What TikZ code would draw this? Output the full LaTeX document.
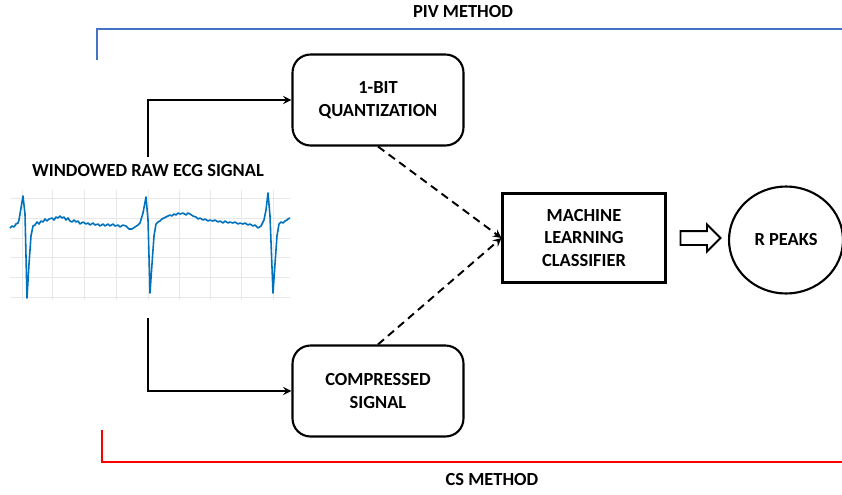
\documentclass[tikz,border=0pt]{standalone}
\usepackage{fontspec}
\setmainfont{Carlito}
\usetikzlibrary{shapes.geometric,shapes.arrows}

\definecolor{pivblue}{RGB}{68,114,196}
\definecolor{csred}{RGB}{255,0,0}
\definecolor{ecgblue}{RGB}{0,114,189}
\definecolor{gridgray}{RGB}{232,232,232}

\begin{document}
\begin{tikzpicture}[
  x=0.02cm, y=-0.02cm,
  every node/.style={font=\fontsize{10.5}{13}\selectfont\bfseries},
  roundbox/.style={rectangle, draw, line width=1.2pt, rounded corners=0.36cm,
                   minimum width=3.42cm, minimum height=1.82cm, align=center},
  mlbox/.style={rectangle, draw, line width=1.2pt,
                minimum width=3.26cm, minimum height=1.78cm, align=center},
  peaks/.style={ellipse, draw, line width=1.2pt,
                minimum width=2.28cm, minimum height=2.14cm},
  fatarrow/.style={single arrow, draw, line width=1.1pt, inner xsep=0pt,
                   inner ysep=0.12cm, minimum height=0.8cm,
                   single arrow head extend=0.13cm},
  link/.style={->, >=stealth, line width=1.1pt},
  dlink/.style={->, >=stealth, line width=1.1pt, dash pattern=on 4.5pt off 3pt},
  method/.style={line width=1.2pt}
]
\useasboundingbox (0,0) rectangle (842,494);

% method brackets
\node (pivlabel) at (463,12) {PIV METHOD};
\coordinate (pivstart) at (97,60);
\coordinate (pivend) at (842,29);
\draw[method, pivblue] (pivstart) |- (pivend);

\node (cslabel) at (492,480) {CS METHOD};
\coordinate (csstart) at (102,430);
\coordinate (csend) at (842,462);
\draw[method, csred] (csstart) |- (csend);

% windowed ECG signal
\node (ecglabel) at (148,171) {WINDOWED RAW ECG SIGNAL};
\foreach \gx in {22,52,84,116,148,179,210,241,273}
  \draw[gridgray, line width=0.5pt] (\gx,190) -- (\gx,300);
\foreach \gy in {198,218,238,257,277,297}
  \draw[gridgray, line width=0.5pt] (10,\gy) -- (290,\gy);
\draw[ecgblue, line width=0.9pt, line join=round]
  (10,228) -- (12,226) -- (14,227) -- (16,224) -- (18,223) -- (19,220)
  -- (21,208) -- (23,196) -- (25,214) -- (27,298) -- (29,264) -- (31,236)
  -- (33,226) -- (35,225) -- (37,222) -- (39,224) -- (41,221) -- (43,222)
  -- (45,219) -- (47,221) -- (49,219) -- (52,218) -- (54,220) -- (56,217)
  -- (58,218) -- (60,216) -- (62,218) -- (64,217) -- (66,220) -- (68,218)
  -- (70,221) -- (72,222) -- (74,220) -- (76,222) -- (78,221) -- (80,224)
  -- (83,222) -- (86,224) -- (88,223) -- (90,225) -- (93,223) -- (95,225)
  -- (98,224) -- (100,226) -- (103,224) -- (105,226) -- (108,224)
  -- (110,226) -- (113,224) -- (115,226) -- (118,225) -- (120,227)
  -- (123,225) -- (126,226) -- (129,229) -- (132,229) -- (135,227)
  -- (138,225) -- (140,223) -- (143,213) -- (146,197) -- (148,220)
  -- (150,293) -- (152,264) -- (154,236) -- (156,224) -- (158,222)
  -- (160,221) -- (162,219) -- (164,218) -- (166,217) -- (168,216)
  -- (170,215) -- (172,216) -- (174,214) -- (176,215) -- (178,213)
  -- (180,214) -- (183,213) -- (186,215) -- (188,213) -- (190,214)
  -- (193,216) -- (196,217) -- (198,219) -- (200,218) -- (203,220)
  -- (205,219) -- (208,221) -- (210,220) -- (213,221) -- (215,220)
  -- (218,222) -- (220,221) -- (223,223) -- (225,221) -- (228,223)
  -- (230,222) -- (233,223) -- (235,222) -- (238,224) -- (240,223)
  -- (243,224) -- (245,223) -- (248,225) -- (250,224) -- (253,226)
  -- (255,225) -- (258,228) -- (261,226) -- (264,220) -- (266,210)
  -- (268,193) -- (270,216) -- (273,293) -- (275,264) -- (277,236)
  -- (279,224) -- (281,222) -- (283,223) -- (285,221) -- (287,220)
  -- (288,219) -- (290,218);
\coordinate (ecgtop) at (148,157);
\coordinate (ecgbot) at (148,318);

% processing blocks
\node[roundbox] (quant) at (378,100) {1-BIT\\QUANTIZATION};
\node[roundbox] (comp) at (378,391) {COMPRESSED\\SIGNAL};
\node[mlbox] (ml) at (584,238) {MACHINE\\LEARNING\\CLASSIFIER};
\node[fatarrow] (toPeaks) at (697,238) {};
\node[peaks] (rpeaks) at (786,240) {R PEAKS};

\draw[link] (ecgtop) |- (quant.west);
\draw[link] (ecgbot) |- (comp.west);
\draw[dlink] (quant.south) -- (ml.west);
\draw[dlink] (comp.north) -- (ml.west);

\end{tikzpicture}
\end{document}
